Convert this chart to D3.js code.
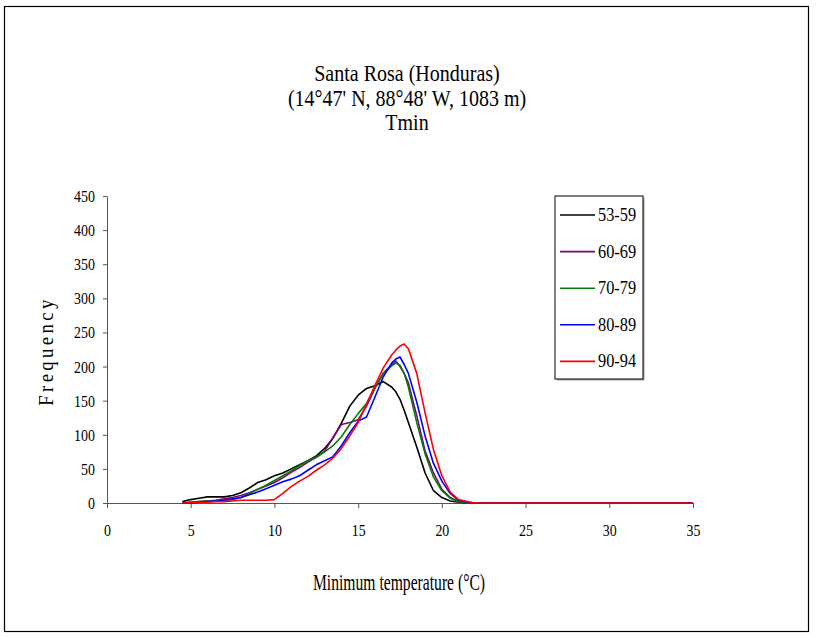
<!DOCTYPE html>
<html>
<head>
<meta charset="utf-8">
<script src="https://cdn.jsdelivr.net/npm/d3@7"></script>
<style>
  body { margin: 0; background: #fff; }
  svg text { font-family: "Liberation Serif", "Times New Roman", "DejaVu Serif", serif; fill: #000; }
</style>
</head>
<body>
<div id="chart"></div>
<script>
// minimum temperature bins (°C)
var temps = [4.5, 5, 5.5, 6, 6.5, 7, 7.5, 8, 8.5, 9, 9.5, 10, 10.5, 11, 11.5, 12, 12.5, 13, 13.5, 14,
  14.5, 15, 15.5, 16, 16.5, 17, 17.25, 17.5, 17.75, 18, 18.5, 19, 19.5, 20, 20.5, 21, 21.5, 22, 35];

var s5359 = [2, 5, 7, 9, 9, 9, 11, 15, 22, 30, 34, 40, 44, 50, 56, 62, 69, 80, 95, 117,
  142, 158, 168, 172, 178, 170, 163, 152, 136, 118, 82, 44, 18, 8, 3, 1, 0, 0, 0];
var s6069 = [0, 1, 2, 3, 4, 6, 8, 11, 15, 20, 25, 30, 37, 45, 52, 60, 67, 76, 96, 115,
  118, 122, 142, 168, 190, 203, 208, 200, 190, 176, 128, 76, 44, 20, 8, 2, 0, 0, 0];
var s7079 = [0, 1, 2, 3, 3, 4, 5, 8, 14, 20, 26, 33, 40, 47, 55, 62, 67, 75, 84, 97,
  115, 131, 146, 168, 190, 201, 205, 202, 190, 170, 118, 72, 38, 18, 7, 2, 0, 0, 0];
var s8089 = [0, 0, 1, 2, 3, 4, 6, 8, 12, 16, 21, 26, 31, 35, 40, 48, 56, 62, 68, 84,
  103, 120, 126, 155, 185, 205, 211, 214, 203, 190, 148, 98, 58, 32, 14, 4, 1, 0, 0];
var s9094 = [0, 1, 1, 1, 2, 2, 3, 4, 4, 4, 4, 5, 14, 24, 32, 39, 48, 56, 66, 80,
  98, 118, 145, 172, 198, 217, 224, 230, 233, 226, 190, 132, 78, 40, 16, 5, 2, 0, 0];

var seriesNames = ["53-59", "60-69", "70-79", "80-89", "90-94"];
var seriesValues = [s5359, s6069, s7079, s8089, s9094];
var seriesColors = ["#000000", "#800080", "#008000", "#0000ff", "#ff0000"];

var xTicks = [0, 5, 10, 15, 20, 25, 30, 35];
var yTicks = [0, 50, 100, 150, 200, 250, 300, 350, 400, 450];

var titleLines = ["Santa Rosa (Honduras)", "(14°47' N, 88°48' W, 1083 m)", "Tmin"];

var W = 816, H = 637;
var plot = {left: 107, right: 693, top: 196, bottom: 503};
var sx = 0.82; // text in the original is horizontally squeezed

var svg = d3.select("#chart").append("svg")
  .attr("width", W)
  .attr("height", H)
  .attr("font-family", "Liberation Serif");

// outer frame
svg.append("rect")
  .attr("x", 4.5).attr("y", 6.5)
  .attr("width", 804).attr("height", 625)
  .attr("fill", "none").attr("stroke", "#000").attr("stroke-width", 1.2);

var x = d3.scaleLinear().domain([0, 35]).range([plot.left, plot.right]);
var y = d3.scaleLinear().domain([0, 450]).range([plot.bottom, plot.top]);

// squeezed text helper
function label(px, py, str, size, k, rot) {
  var t = "translate(" + px + "," + py + ")" + (rot ? " rotate(" + rot + ")" : "") + " scale(" + k + ",1)";
  return svg.append("text")
    .attr("transform", t)
    .attr("text-anchor", "middle")
    .style("font-size", size + "px")
    .text(str);
}

// title
titleLines.forEach(function(s, i) {
  label(407, 81 + i * 24.5, s, 23, 0.87);
});

// axes
var xAxis = svg.append("g")
  .attr("transform", "translate(0," + plot.bottom + ")")
  .call(d3.axisBottom(x).tickValues(xTicks).tickSize(5).tickSizeOuter(0).tickPadding(16));
var yAxis = svg.append("g")
  .attr("transform", "translate(" + plot.left + ",0)")
  .call(d3.axisLeft(y).tickValues(yTicks).tickSize(4).tickSizeOuter(0).tickPadding(8));

svg.selectAll("g").attr("font-family", null);
svg.selectAll(".domain, .tick line").attr("stroke", "#555");
xAxis.selectAll(".tick text")
  .style("font-size", "17px")
  .attr("transform", "scale(" + sx + ",1)");
yAxis.selectAll(".tick text")
  .style("font-size", "17px")
  .attr("x", -12 / sx)
  .attr("transform", "scale(" + sx + ",1)");
svg.selectAll(".tick text").attr("fill", "#000");

// axis titles
label(399, 590, "Minimum temperature (°C)", 23, 0.68);
label(53, 351, "Frequency", 22, 0.85, -90).style("letter-spacing", "4px");

// lines
var line = d3.line()
  .x(function(d, i) { return x(temps[i]); })
  .y(function(d) { return y(d); });

svg.selectAll(".series")
  .data(seriesValues)
  .enter()
  .append("path")
    .attr("class", "series")
    .attr("fill", "none")
    .attr("stroke", function(d, i) { return seriesColors[i]; })
    .attr("stroke-width", 1.6)
    .attr("stroke-linejoin", "round")
    .attr("d", line);

// legend
var lg = svg.append("g").attr("transform", "translate(555,196)");
lg.append("rect")
  .attr("x", 1.5).attr("y", 1.5).attr("width", 88).attr("height", 183)
  .attr("fill", "#aaa");
lg.append("rect")
  .attr("width", 88).attr("height", 183)
  .attr("fill", "#fff").attr("stroke", "#000").attr("stroke-width", 1);

seriesNames.forEach(function(name, i) {
  var yy = 19 + i * 36.6;
  lg.append("line")
    .attr("x1", 5).attr("x2", 40)
    .attr("y1", yy).attr("y2", yy)
    .attr("stroke", seriesColors[i]).attr("stroke-width", 1.6);
  lg.append("text")
    .attr("transform", "translate(43," + (yy + 6) + ") scale(0.86,1)")
    .style("font-size", "19px")
    .text(name);
});
</script>
</body>
</html>
